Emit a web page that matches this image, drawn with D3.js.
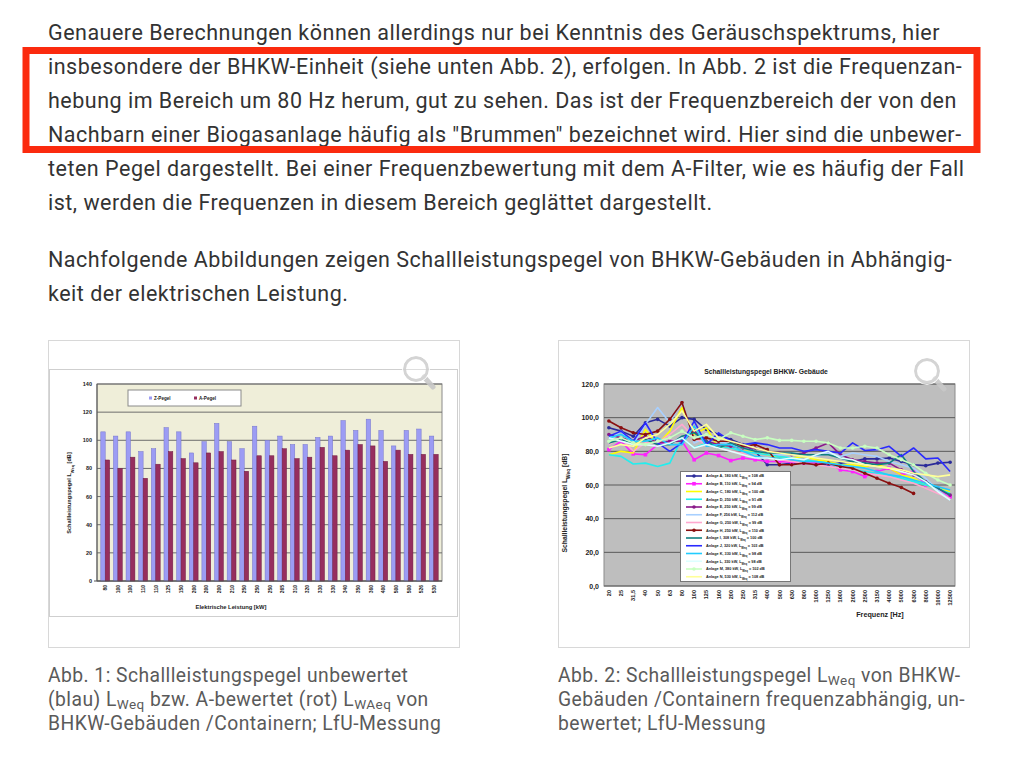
<!DOCTYPE html>
<html>
<head>
<meta charset="utf-8">
<script src="https://cdnjs.cloudflare.com/ajax/libs/d3/7.8.5/d3.min.js"></script>
<style>
body{margin:0;background:#fff;}
svg{display:block;}
.para{font-family:Roboto,sans-serif;font-size:21.5px;letter-spacing:0.5px;fill:#333;}
.cap{font-family:Roboto,sans-serif;font-size:19.3px;letter-spacing:0.45px;fill:#5a5a5a;}
.ch{font-family:"Liberation Sans",Arial,sans-serif;font-weight:bold;fill:#222;}
</style>
</head>
<body>
<svg id="page" width="1024" height="767"></svg>
<script>

// texte
var para1 = [
	'Genauere Berechnungen können allerdings nur bei Kenntnis des Geräuschspektrums, hier',
	'insbesondere der BHKW-Einheit (siehe unten Abb. 2), erfolgen. In Abb. 2 ist die Frequenzan-',
	'hebung im Bereich um 80 Hz herum, gut zu sehen. Das ist der Frequenzbereich der von den',
	'Nachbarn einer Biogasanlage häufig als "Brummen" bezeichnet wird. Hier sind die unbewer-',
	'teten Pegel dargestellt. Bei einer Frequenzbewertung mit dem A-Filter, wie es häufig der Fall',
	'ist, werden die Frequenzen in diesem Bereich geglättet dargestellt.'
];
var para2 = [
	'Nachfolgende Abbildungen zeigen Schallleistungspegel von BHKW-Gebäuden in Abhängig-',
	'keit der elektrischen Leistung.'
];
var caption1 = [
	'Abb. 1: Schallleistungspegel unbewertet',
	'(blau) L_{Weq} bzw. A-bewertet (rot) L_{WAeq} von',
	'BHKW-Gebäuden /Containern; LfU-Messung'
];
var caption2 = [
	'Abb. 2: Schallleistungspegel L_{Weq} von BHKW-',
	'Gebäuden /Containern frequenzabhängig, un-',
	'bewertet; LfU-Messung'
];

// Abb. 1 daten
var leistung = ['80','100','100','110','110','125','150','200','200','200','210','250','250','250',
	'265','310','320','330','330','340','350','360','400','500','500','526','530'];
var zPegel = [106,103,106,92,94,109,106,91,99,112,99,94,110,100,103,97,97,102,103,114,107,115,107,96,107,108,103];
var aPegel = [86,80,88,73,83,92,87,84,91,92,86,78,89,89,94,87,88,95,89,93,97,96,85,93,90,90,90];
var yTicks1 = [0,20,40,60,80,100,120,140];

// Abb. 2 daten
var frequenz = ['20','25','31,5','40','50','63','80','100','125','160','200','250','315','400','500',
	'630','800','1000','1250','1600','2000','2500','3150','4000','5000','6300','8000','10000','12500'];
var yTicks2 = [0,20,40,60,80,100,120];

var anlageA = [94,92,89,97,99,95,100,99,93,90,87,84,80,72,72,73,73,72,72,73,74,75.5,75.5,76,74,72,71.5,73,73.5];
var anlageB = [81,86,78.5,78,84,86,86,75,79,77.5,74.5,76,75,74,74,73.5,73,73,73,69,68,65,68,70,66,68,60,58,53];
var anlageC = [78,80,79,93,84,92,106,90,94,82,84,80,80,78,76,76,77,75,74,72,72,71,72,70,66,64,60,58,56];
var anlageD = [78,77,72.5,73,71,73,88,82,85,83,82,80,79,78,77,76,75,74,73,70,69,68,67,66,64,62,60,58,55];
var anlageE = [90,88,86,89,85,86,86,92,86,84,83,82,82,80,79,78,79,82,85,78,75,74,73,73,69,66,62,58,54];
var anlageF = [86,92,84,96,106,97,110,85,88,86,84,82,80,79,78,78,77,77,79,77,79,78,77,74,72,70,64,57,51];
var anlageG = [84,88,80,85,85,90,96,88,84,82,80,79,77,76,75,74,73,72,71,70,69,67,66,65,63,61,58,55,52];
var anlageH = [98,94,91,90,92,99,109,87,88,86,86,83,84,81,72,72,73,72,73,71,70,67,64,61,58.5,55,null,null,null];
var anlageI = [85,87,85,87,84,84,89,91,86,82,85,82,80,79,79,79,78,78,78,76,74,73,72,73,78,68,62,58,54];
var anlageJ = [89,92,86,97,85,80,85,98,84,91,86,84,85,84,82,82,80,81,80,79,85,80.5,81,83,77,82,75.5,76,68];
var anlageK = [88,90,86,86,88,84,84,95,83,84,84,80,77,76,76,75,74,74,73,72,71,70,68,66,65,63,61,59,57];
var anlageL = [88,86,84,84,83,85,88,82,84,82,80,78,76,76,75,76,75,78,80,76,75,72,71,70,68,66,62,56,51];
var anlageM = [86,88,85,84,86,88,92,88,90,87,91,89,87,88,86.5,86.5,86,86,85,82,82,83,82,78,75,72,67,63,60];
var anlageN = [82,84,83,88,90,96,104,92,96,88,86,84,82,80,79,78,77,76,75,74,73,72,71,70,69,67,66,65,66];

var anlageNamen = [
	'Anlage A, 180 kW, L_{Weq} = 108 dB','Anlage B, 110 kW, L_{Weq} = 94 dB','Anlage C, 180 kW, L_{Weq} = 100 dB',
	'Anlage D, 250 kW, L_{Weq} = 91 dB','Anlage E, 250 kW, L_{Weq} = 99 dB','Anlage F, 256 kW, L_{Weq} = 112 dB',
	'Anlage G, 250 kW, L_{Weq} = 99 dB','Anlage H, 250 kW, L_{Weq} = 110 dB','Anlage I, 308 kW, L_{Weq} = 100 dB',
	'Anlage J, 320 kW, L_{Weq} = 103 dB','Anlage K, 330 kW, L_{Weq} = 98 dB','Anlage L, 330 kW, L_{Weq} = 98 dB',
	'Anlage M, 380 kW, L_{Weq} = 102 dB','Anlage N, 530 kW, L_{Weq} = 108 dB'
];
var anlageFarben = ['#2b2b9a','#ff22ff','#ffff00','#22eeee','#8a1a8a','#a8d0ff','#ffa8d0','#8a1010',
	'#108080','#2a2aff','#22ccff','#ddffff','#c8ffc0','#ffff99'];
var anlageMarker = ['circle','square',null,null,'circle',null,null,'circle',null,null,null,null,'circle',null];

var serien = [anlageA,anlageB,anlageC,anlageD,anlageE,anlageF,anlageG,anlageH,anlageI,anlageJ,anlageK,anlageL,anlageM,anlageN]
	.map(function(v,i){ return {name:anlageNamen[i], color:anlageFarben[i], marker:anlageMarker[i], values:v}; });


var svg = d3.select('#page');

// text with L_{sub}
function richText(sel, str, shift){
	str.split(/_\{|\}/).forEach(function(p,i){
		if(!p) return;
		var t = sel.append('tspan').text(p);
		if(i%2==1) t.attr('baseline-shift',shift||'sub').attr('font-size','0.7em');
	});
}

//PARAGRAPHS
svg.selectAll('.p1').data(para1).enter()
	.append('text').attr('class','para p1')
	.attr('x',48).attr('y',function(d,i){return 39.5+i*34;})
	.text(function(d){return d;});

svg.selectAll('.p2').data(para2).enter()
	.append('text').attr('class','para p2')
	.attr('x',48).attr('y',function(d,i){return 266.5+i*34;})
	.text(function(d){return d;});

// red highlight
svg.append('rect')
	.attr('x',26).attr('y',50.5).attr('width',951).attr('height',99)
	.attr('fill','none').attr('stroke','#fb2a0e').attr('stroke-width',7);

// captions
[[caption1,48],[caption2,558]].forEach(function(c){
	c[0].forEach(function(line,i){
		var t = svg.append('text').attr('class','cap').attr('x',c[1]).attr('y',682+i*24);
		richText(t,line,'-3px');
	});
});

// figure frames
[48,558].forEach(function(x){
	svg.append('rect').attr('x',x+0.5).attr('y',340.5).attr('width',411).attr('height',307)
		.attr('fill','#fff').attr('stroke','#d8d8d8');
});

function lupe(cx,cy){
	var g = svg.append('g').attr('opacity',0.9);
	g.append('line').attr('x1',cx+8).attr('y1',cy+8).attr('x2',cx+17).attr('y2',cy+18)
		.attr('stroke','#c8c8c8').attr('stroke-width',5).attr('stroke-linecap','round');
	g.append('circle').attr('cx',cx).attr('cy',cy).attr('r',11.5)
		.attr('fill','rgba(255,255,255,.35)').attr('stroke','#d0d0d0').attr('stroke-width',3);
	g.append('circle').attr('cx',cx).attr('cy',cy).attr('r',13.5)
		.attr('fill','none').attr('stroke','#fff').attr('stroke-width',1);
}


//ABB 1
var c1 = svg.append('g');
c1.append('rect').attr('x',49.5).attr('y',369.5).attr('width',408).attr('height',247)
	.attr('fill','#fff').attr('stroke','#cfcfcf');

var p1 = {l:97,r:442,t:384,b:581};
var x1 = d3.scaleBand().domain(leistung.map(function(d,i){return i;}))
	.range([p1.l,p1.r]).paddingInner(0.3).paddingOuter(0.3);
var y1 = d3.scaleLinear().domain([0,140]).range([p1.b,p1.t]);

c1.append('rect').attr('x',p1.l).attr('y',p1.t).attr('width',p1.r-p1.l).attr('height',p1.b-p1.t)
	.attr('fill','#efeed9').attr('stroke','#8a8a8a');

c1.selectAll('.grid1').data(yTicks1).enter().append('line')
	.attr('x1',p1.l).attr('x2',p1.r)
	.attr('y1',function(d){return y1(d);}).attr('y2',function(d){return y1(d);})
	.attr('stroke','#6d6d6d').attr('stroke-width',1);

var bw = x1.bandwidth()/2;
c1.selectAll('.zbar').data(zPegel).enter().append('rect')
	.attr('x',function(d,i){return x1(i);}).attr('width',bw)
	.attr('y',function(d){return y1(d);}).attr('height',function(d){return y1(0)-y1(d);})
	.attr('fill','#9c9cf4').attr('stroke','#7474cc').attr('stroke-width',0.5);
c1.selectAll('.abar').data(aPegel).enter().append('rect')
	.attr('x',function(d,i){return x1(i)+bw;}).attr('width',bw)
	.attr('y',function(d){return y1(d);}).attr('height',function(d){return y1(0)-y1(d);})
	.attr('fill','#962e5e').attr('stroke','#6e1c44').attr('stroke-width',0.5);

c1.append('line').attr('x1',p1.l).attr('x2',p1.l).attr('y1',p1.t).attr('y2',p1.b).attr('stroke','#555');
c1.append('line').attr('x1',p1.l-3).attr('x2',p1.r).attr('y1',p1.b).attr('y2',p1.b).attr('stroke','#555');

c1.selectAll('.yt1').data(yTicks1).enter().append('text').attr('class','ch')
	.attr('x',p1.l-5).attr('y',function(d){return y1(d)+2;})
	.attr('text-anchor','end').attr('font-size',5.5)
	.text(function(d){return d;});

c1.selectAll('.xt1').data(leistung).enter().append('text').attr('class','ch')
	.attr('transform',function(d,i){return 'translate('+(x1(i)+x1.bandwidth()/2+2)+','+(p1.b+4)+') rotate(-90)';})
	.attr('text-anchor','end').attr('font-size',5)
	.text(function(d){return d;});

c1.append('text').attr('class','ch').attr('x',231).attr('y',609)
	.attr('text-anchor','middle').attr('font-size',5.8).text('Elektrische Leistung [kW]');
var yl1 = c1.append('text').attr('class','ch').attr('text-anchor','middle').attr('font-size',5.6)
	.attr('transform','translate(71,493) rotate(-90)');
richText(yl1,'Schallleistungspegel L_{Weq} [dB]');

// legend
c1.append('rect').attr('x',128).attr('y',390).attr('width',113).attr('height',16)
	.attr('fill','#fff').attr('stroke','#8a8a8a');
[['Z-Pegel','#9c9cf4',149],['A-Pegel','#962e5e',194]].forEach(function(l){
	c1.append('rect').attr('x',l[2]).attr('y',396.5).attr('width',3).attr('height',3).attr('fill',l[1]);
	c1.append('text').attr('class','ch').attr('x',l[2]+5).attr('y',400).attr('font-size',4.6)
		.attr('font-weight','normal').text(l[0]);
});

lupe(416,369);


//ABB 2
var c2 = svg.append('g');
var p2 = {l:604,r:955,t:384,b:586};
var x2 = d3.scalePoint().domain(frequenz).range([p2.l,p2.r]).padding(0.4);
var y2 = d3.scaleLinear().domain([0,120]).range([p2.b,p2.t]);

c2.append('text').attr('class','ch').attr('x',766).attr('y',374)
	.attr('text-anchor','middle').attr('font-size',6.8).text('Schallleistungspegel  BHKW- Gebäude');

c2.append('rect').attr('x',p2.l).attr('y',p2.t).attr('width',p2.r-p2.l).attr('height',p2.b-p2.t)
	.attr('fill','#bebebe').attr('stroke','#8c8c8c');
c2.selectAll('.grid2').data(yTicks2).enter().append('line')
	.attr('x1',p2.l).attr('x2',p2.r)
	.attr('y1',function(d){return y2(d);}).attr('y2',function(d){return y2(d);})
	.attr('stroke','#5a5a5a').attr('stroke-width',1);

var fmt = d3.format('.1f');
c2.selectAll('.yt2').data(yTicks2).enter().append('text').attr('class','ch')
	.attr('x',p2.l-5).attr('y',function(d){return y2(d)+2.5;})
	.attr('text-anchor','end').attr('font-size',7)
	.text(function(d){return fmt(d).replace('.',',');});

c2.selectAll('.xt2').data(frequenz).enter().append('text').attr('class','ch')
	.attr('transform',function(d){return 'translate('+(x2(d)+2)+','+(p2.b+4)+') rotate(-90)';})
	.attr('text-anchor','end').attr('font-size',5.6)
	.text(function(d){return d;});

c2.append('text').attr('class','ch').attr('x',880).attr('y',617)
	.attr('text-anchor','middle').attr('font-size',7.2).text('Frequenz [Hz]');
var yl2 = c2.append('text').attr('class','ch').attr('text-anchor','middle').attr('font-size',6.8)
	.attr('transform','translate(567,503) rotate(-90)');
richText(yl2,'Schallleistungspegel L_{Weq} [dB]');

var line = d3.line()
	.defined(function(d){return d!=null;})
	.x(function(d,i){return x2(frequenz[i]);})
	.y(function(d){return y2(d);});

function marker(sel,s,cx,cy){
	if(s.marker=='circle'){
		sel.append('circle').attr('cx',cx).attr('cy',cy).attr('r',1.8).attr('fill',s.color);
	} else if(s.marker=='square'){
		sel.append('rect').attr('x',cx-1.8).attr('y',cy-1.8).attr('width',3.6).attr('height',3.6).attr('fill',s.color);
	}
}

serien.forEach(function(s){
	var g = c2.append('g');
	g.append('path').datum(s.values).attr('d',line)
		.attr('fill','none').attr('stroke',s.color).attr('stroke-width',1.6).attr('stroke-linejoin','round');
	if(s.marker){
		s.values.forEach(function(v,i){
			if(v!=null) marker(g,s,x2(frequenz[i]),y2(v));
		});
	}
});

// legend
c2.append('rect').attr('x',680.5).attr('y',471.5).attr('width',110).attr('height',110)
	.attr('fill','#fff').attr('stroke','#777');
serien.forEach(function(s,i){
	var yy = 476+i*7.75;
	c2.append('line').attr('x1',686).attr('x2',702).attr('y1',yy).attr('y2',yy)
		.attr('stroke',s.color).attr('stroke-width',1.6);
	if(s.marker) marker(c2,s,694,yy);
	var t = c2.append('text').attr('class','ch').attr('x',706).attr('y',yy+1.3)
		.attr('font-size',3.8).attr('font-weight','normal').attr('fill','#333');
	richText(t,s.name);
});

lupe(927,371);

</script>
</body>
</html>
